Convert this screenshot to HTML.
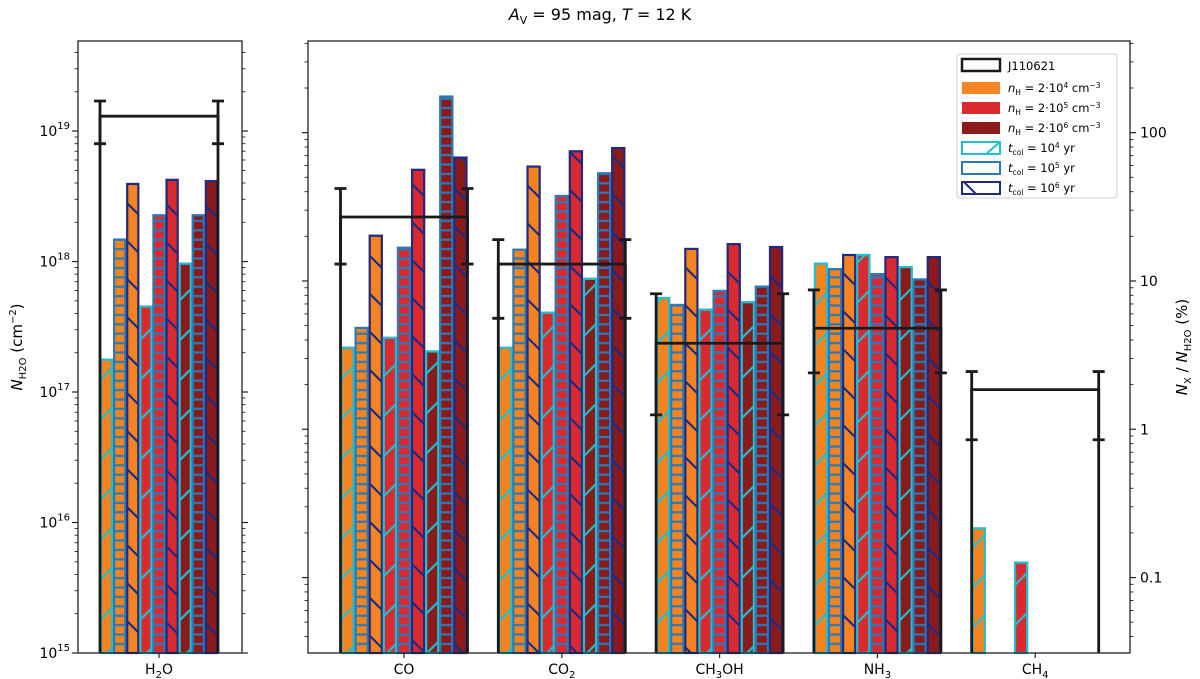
<!DOCTYPE html>
<html><head><meta charset="utf-8"><style>
body{margin:0;background:#fff;}
svg{display:block;font-family:"DejaVu Sans","Liberation Sans",sans-serif;}
</style></head><body>
<svg id="chart" width="1200" height="679" viewBox="0 0 1200 679" xmlns="http://www.w3.org/2000/svg">
<defs>
<pattern id="h4" patternUnits="userSpaceOnUse" width="40" height="40"><path d="M-5,45 L45,-5 M-45,45 L45,-45 M-5,85 L85,-5" stroke="#1fbfd2" stroke-width="2.2"/></pattern>
<pattern id="h5" patternUnits="userSpaceOnUse" width="40" height="9.4"><path d="M0,4.7 L40,4.7" stroke="#2a7ab8" stroke-width="2.2"/></pattern>
<pattern id="h6" patternUnits="userSpaceOnUse" width="38" height="38"><path d="M-5,-5 L43,43 M-43,-5 L5,43 M33,-5 L81,43" stroke="#1f2a80" stroke-width="2.2"/></pattern>
</defs>
<text x="600" y="20" text-anchor="middle" font-size="16"><tspan font-style="italic">A</tspan><tspan font-size="11" dy="4">V</tspan><tspan dy="-4"> = 95 mag,  </tspan><tspan font-style="italic">T</tspan> = 12 K</text>
<g id="bars"></g>
<g id="axes"></g>
</svg>
<script>
// ---- data ----
const molecules = ["CO", "CO2", "CH3OH", "NH3", "CH4"];
const h2oValues = [1.8e17, 1.5e18, 4.0e18, 4.6e17, 2.3e18, 4.3e18, 9.8e17, 2.3e18, 4.2e18];
const h2oRef = [1.3e19, 0.8e19, 1.7e19];
const coValues = [3.6, 4.9, 20.5, 4.2, 17, 57, 3.4, 178, 69];
const co2Values = [3.6, 16.5, 60, 6.2, 38, 76, 10.5, 54, 80];
const ch3ohValues = [7.8, 7.0, 16.7, 6.5, 8.7, 18, 7.3, 9.3, 17.2];
const nh3Values = [13.3, 12.2, 15.2, 15.2, 11.3, 14.7, 12.6, 10.4, 14.7];
const ch4Values = [0.218, 0, 0, 0.128, 0, 0, 0, 0, 0];
const refValues = [27, 13, 3.8, 4.8, 1.85];
const refLow = [13, 5.6, 1.25, 2.4, 0.85];
const refHigh = [42, 19, 8.2, 8.7, 2.45];
const leftTicks = [15, 16, 17, 18, 19];
const rightTickLabels = ["0.1", "1", "10", "100"];
const rightTickValues = [0.1, 1, 10, 100];
// ---- layout ----
const NS = "http://www.w3.org/2000/svg";
const bars = document.getElementById('bars'), axes = document.getElementById('axes');
const TOP = 41, BOT = 653;
const L = {x0: 78, x1: 242, lmin: 15, lmax: 19.69};
const R = {x0: 308, x1: 1130, lmin: Math.log10(0.031), lmax: Math.log10(415)};
function yL(v){return BOT - (Math.log10(v)-L.lmin)/(L.lmax-L.lmin)*(BOT-TOP);}
function yR(v){return BOT - (Math.log10(v)-R.lmin)/(R.lmax-R.lmin)*(BOT-TOP);}
function el(tag, attrs, parent){const e=document.createElementNS(NS,tag);for(const k in attrs)e.setAttribute(k,attrs[k]);(parent||bars).appendChild(e);return e;}
const fills = ["#f5831f","#da2a2f","#8b1a1a"];
const edges = ["#1fbfd2","#2a7ab8","#1f2a80"];
const hatches = ["url(#h4)","url(#h5)","url(#h6)"];
function drawGroup(vals, cx, gw, yf, key){
  const bw = gw/9, x0 = cx - gw/2;
  vals.forEach((v,i)=>{
    if(!(v>0)) return;
    const d=Math.floor(i/3), t=i%3, x=x0+i*bw, y=Math.max(yf(v),TOP);
    const r1=el('rect',{x:x,y:y,width:bw,height:BOT-y,fill:fills[d]});
    
    
    const r2=el('rect',{x:x+1,y:y+1,width:bw-2,height:BOT-y-1,fill:hatches[t],stroke:edges[t],'stroke-width':2.2});
    
    
  });
}
function drawRef(val, lo, hi, cx, gw, yf, key){
  const a=cx-gw/2, b=cx+gw/2, y=yf(val);
  const g=el('g',{stroke:'#1a1a1a','stroke-width':2.8,fill:'none'});
  
  
  el('path',{d:`M${a},${BOT} L${a},${y} L${b},${y} L${b},${BOT}`},g);
  [a,b].forEach(x=>{
    el('path',{d:`M${x},${yf(lo)} L${x},${yf(hi)} M${x-6},${yf(lo)} L${x+6},${yf(lo)} M${x-6},${yf(hi)} L${x+6},${yf(hi)}`},g);
  });
}
drawGroup(h2oValues, 159, 118, yL, 'h2o');
drawRef(h2oRef[0], h2oRef[1], h2oRef[2], 159, 118, yL, 'h2o');
const rightVals=[coValues,co2Values,ch3ohValues,nh3Values,ch4Values];
const centers=molecules.map((m,i)=>404+i*157.8);
rightVals.forEach((vals,i)=>drawGroup(vals, centers[i], 127, yR, molecules[i].toLowerCase()));
molecules.forEach((m,i)=>drawRef(refValues[i], refLow[i], refHigh[i], centers[i], 127, yR, m.toLowerCase()));
[L,R].forEach((p,k)=>{
  const f=el('rect',{x:p.x0,y:TOP,width:p.x1-p.x0,height:BOT-TOP,fill:'none',stroke:'#222','stroke-width':1.3},axes);
  
  
});
function ticks(p, yf, minV, maxV){
  for(let e=Math.floor(Math.log10(minV)); e<=Math.ceil(Math.log10(maxV)); e++){
    for(let m=1;m<10;m++){
      const v=m*Math.pow(10,e), y=yf(v);
      if(y<TOP-0.5||y>BOT+0.5) continue;
      const len=m===1?6:3.5;
      [p.x0,p.x1].forEach(x=>{
        const dir = x===p.x0?-1:1;
        el('line',{x1:x,x2:x+dir*len,y1:y,y2:y,stroke:'#222','stroke-width':m===1?1.2:0.9},axes);
      });
    }
  }
}
ticks(L, v=>yL(v), 1e15, 1e19);
ticks(R, v=>yR(v), 0.01, 1000);
leftTicks.forEach(e=>{
  const t=el('text',{x:70,y:yL(Math.pow(10,e))+5,'text-anchor':'end','font-size':14},axes);
  
  
  t.innerHTML=`10<tspan font-size="10" dy="-7">${e}</tspan>`;
});
rightTickValues.forEach((v,i)=>{
  const t=el('text',{x:1140,y:yR(v)+5,'font-size':14},axes);
  
  
  t.textContent=rightTickLabels[i];
});
const xl=[[159,'H<tspan font-size="10" dy="4">2</tspan><tspan dy="-4">O</tspan>'],[centers[0],'CO'],[centers[1],'CO<tspan font-size="10" dy="4">2</tspan>'],[centers[2],'CH<tspan font-size="10" dy="4">3</tspan><tspan dy="-4">OH</tspan>'],[centers[3],'NH<tspan font-size="10" dy="4">3</tspan>'],[centers[4],'CH<tspan font-size="10" dy="4">4</tspan>']];
xl.forEach(([x,h])=>{
  el('line',{x1:x,x2:x,y1:BOT,y2:BOT+5,stroke:'#222','stroke-width':1.2},axes);
  const t=el('text',{x:x,y:674,'text-anchor':'middle','font-size':14},axes);
  
  
  t.innerHTML=h;
});
</script>
<svg style="position:absolute;left:0;top:0" width="1200" height="679" xmlns="http://www.w3.org/2000/svg">
<text transform="translate(22,347) rotate(-90)" text-anchor="middle" font-size="15" font-family="DejaVu Sans, sans-serif"><tspan font-style="italic">N</tspan><tspan font-size="10" dy="4">H2O</tspan><tspan dy="-4">  (cm</tspan><tspan font-size="10" dy="-6">−2</tspan><tspan dy="6">)</tspan></text>
<text transform="translate(1187,347) rotate(-90)" text-anchor="middle" font-size="15" font-family="DejaVu Sans, sans-serif"><tspan font-style="italic">N</tspan><tspan font-size="10" dy="4">X</tspan><tspan dy="-4"> / </tspan><tspan font-style="italic">N</tspan><tspan font-size="10" dy="4">H2O</tspan><tspan dy="-4">  (%)</tspan></text>
<g font-family="DejaVu Sans, sans-serif" font-size="11.5">
<rect x="957" y="54" width="160" height="144" rx="3" fill="#fff" stroke="#ccc"/>
<rect x="962" y="59" width="38" height="12" fill="none" stroke="#1a1a1a" stroke-width="2.5"/><text x="1008" y="70">J110621</text>
<rect x="962" y="82" width="38" height="12" fill="#f5831f"/><text x="1008" y="92"><tspan font-style="italic">n</tspan><tspan font-size="7.5" dy="3">H</tspan><tspan dy="-3"> = 2·10</tspan><tspan font-size="7.5" dy="-4">4</tspan><tspan dy="4"> cm</tspan><tspan font-size="7.5" dy="-4">−3</tspan></text>
<rect x="962" y="102" width="38" height="12" fill="#da2a2f"/><text x="1008" y="112"><tspan font-style="italic">n</tspan><tspan font-size="7.5" dy="3">H</tspan><tspan dy="-3"> = 2·10</tspan><tspan font-size="7.5" dy="-4">5</tspan><tspan dy="4"> cm</tspan><tspan font-size="7.5" dy="-4">−3</tspan></text>
<rect x="962" y="122" width="38" height="12" fill="#8b1a1a"/><text x="1008" y="132"><tspan font-style="italic">n</tspan><tspan font-size="7.5" dy="3">H</tspan><tspan dy="-3"> = 2·10</tspan><tspan font-size="7.5" dy="-4">6</tspan><tspan dy="4"> cm</tspan><tspan font-size="7.5" dy="-4">−3</tspan></text>
<rect x="962" y="142" width="38" height="12" fill="none" stroke="#1fbfd2" stroke-width="2"/><path d="M986,154 L1000,142" stroke="#1fbfd2" stroke-width="2"/><text x="1008" y="152"><tspan font-style="italic">t</tspan><tspan font-size="7.5" dy="3">col</tspan><tspan dy="-3"> = 10</tspan><tspan font-size="7.5" dy="-4">4</tspan><tspan dy="4"> yr</tspan></text>
<rect x="962" y="162" width="38" height="12" fill="none" stroke="#2a7ab8" stroke-width="2"/><text x="1008" y="172"><tspan font-style="italic">t</tspan><tspan font-size="7.5" dy="3">col</tspan><tspan dy="-3"> = 10</tspan><tspan font-size="7.5" dy="-4">5</tspan><tspan dy="4"> yr</tspan></text>
<rect x="962" y="182" width="38" height="12" fill="none" stroke="#1f2a80" stroke-width="2"/><path d="M964,182 L976,194" stroke="#1f2a80" stroke-width="2"/><text x="1008" y="192"><tspan font-style="italic">t</tspan><tspan font-size="7.5" dy="3">col</tspan><tspan dy="-3"> = 10</tspan><tspan font-size="7.5" dy="-4">6</tspan><tspan dy="4"> yr</tspan></text>
</g>
</svg>
</body></html>
